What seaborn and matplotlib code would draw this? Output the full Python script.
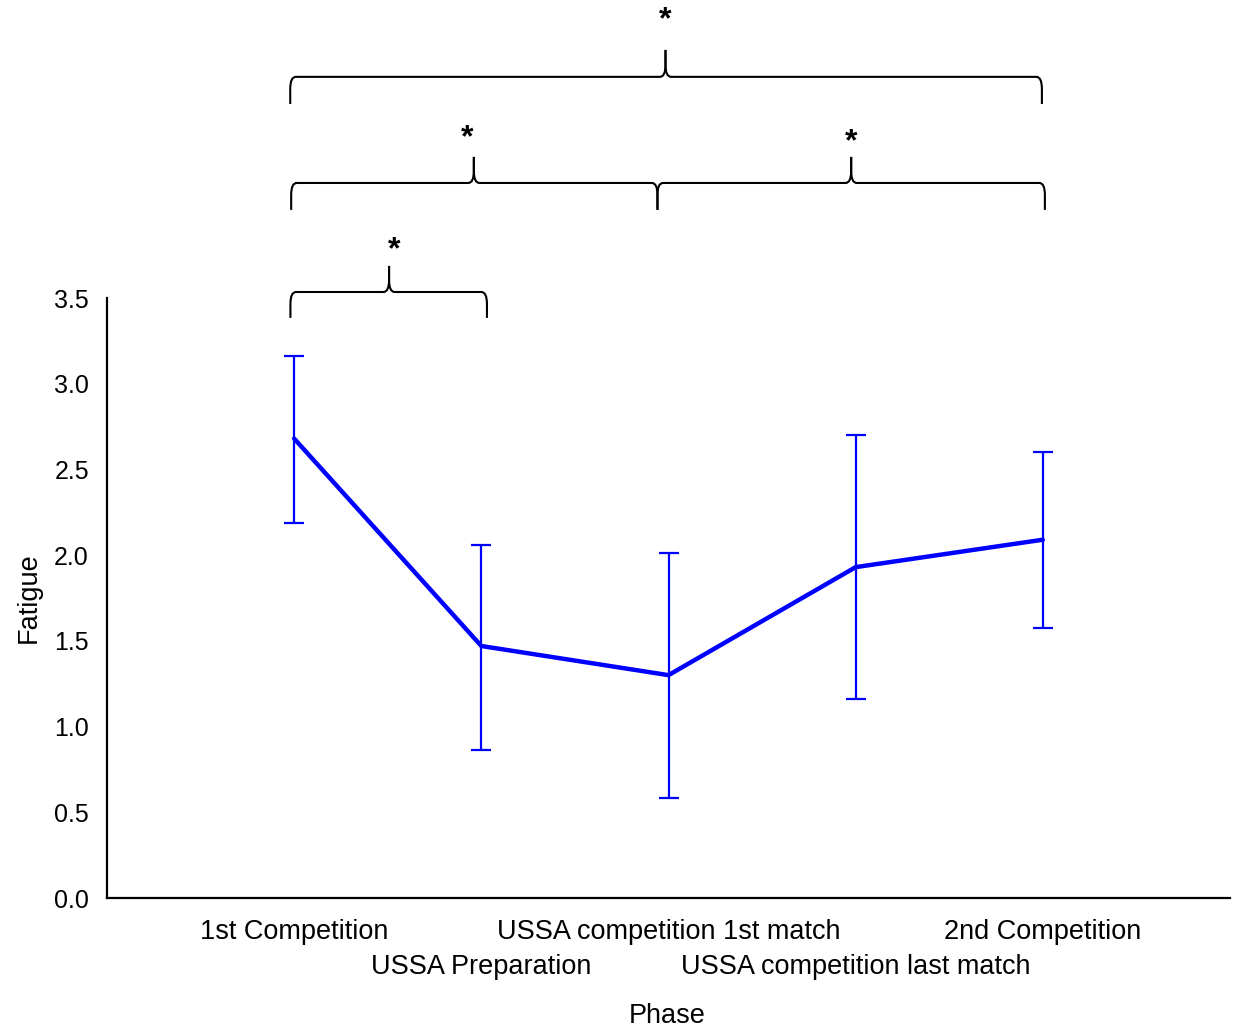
import matplotlib
matplotlib.use("Agg")
import matplotlib.pyplot as plt
from matplotlib.path import Path
from matplotlib.patches import PathPatch
import seaborn as sns
import pandas as pd

phases = ["1st Competition", "USSA Preparation", "USSA competition 1st match",
          "USSA competition last match", "2nd Competition"]
fatigue_mean = [2.68, 1.47, 1.30, 1.93, 2.09]
fatigue_upper = [3.16, 2.06, 2.01, 2.70, 2.60]
fatigue_lower = [2.19, 0.865, 0.585, 1.16, 1.575]

# significance brackets: (start index, end index, apex index)
brackets = [(-0.02, 1.03, 0.507), (-0.016, 1.941, 0.96), (1.941, 4.011, 2.976), (-0.021, 3.995, 1.984)]
bracket_levels = [(3.384, 3.535, 3.687), (4.014, 4.171, 4.323), (4.014, 4.171, 4.323), (4.632, 4.79, 4.947)]
star_pos = [(0.533, 3.78), (0.923, 4.43), (2.976, 4.41), (1.984, 5.12)]

sns.set_style("white")
plt.rcParams["font.family"] = ["Liberation Sans", "DejaVu Sans"]
plt.rcParams["text.color"] = "black"
plt.rcParams["axes.labelcolor"] = "black"

fig = plt.figure(figsize=(12.34, 10.28), dpi=100)
ax = fig.add_axes([107 / 1234, 1 - 898 / 1028, (1230 - 107) / 1234, 600 / 1028])

df = pd.DataFrame({"x": range(len(phases)), "y": fatigue_mean})
sns.lineplot(data=df, x="x", y="y", ax=ax, color="#0000ff", linewidth=3.2)
yerr = [[m - l for m, l in zip(fatigue_mean, fatigue_lower)],
        [u - m for m, u in zip(fatigue_mean, fatigue_upper)]]
ax.errorbar(range(len(phases)), fatigue_mean, yerr=yerr, fmt="none",
            ecolor="#0000ff", elinewidth=1.6, capsize=7, capthick=1.6)

ax.set_xlim(-1, 5)
ax.set_ylim(0, 3.5)
ax.set_yticks([0, 0.5, 1, 1.5, 2, 2.5, 3, 3.5])
ax.set_yticklabels(["0.0", "0.5", "1.0", "1.5", "2.0", "2.5", "3.0", "3.5"])
major_idx = [i for i in range(len(phases)) if i % 2 == 0]
minor_idx = [i for i in range(len(phases)) if i % 2 == 1]
ax.set_xticks(major_idx)
ax.set_xticklabels([phases[i] for i in major_idx])
ax.set_xticks(minor_idx + [5], minor=True)
ax.set_xticklabels([phases[i] for i in minor_idx] + [""], minor=True)
ax.tick_params(axis="both", which="both", direction="in", length=4, width=1.5,
               colors="black")
ax.tick_params(axis="y", labelsize=18, pad=13)
ax.tick_params(axis="x", which="major", labelsize=19.5, pad=15)
ax.tick_params(axis="x", which="minor", labelsize=19.5, pad=40)
ax.set_xlabel("Phase", fontsize=19.5)
ax.set_ylabel("Fatigue", fontsize=19.5, labelpad=9)
ax.xaxis.set_label_coords((667 - 107) / 1123, -0.175)

for s in ["top", "right"]:
    ax.spines[s].set_visible(False)
for s in ["left", "bottom"]:
    ax.spines[s].set_linewidth(1.6)
    ax.spines[s].set_color("black")

dx = 0.03
h = 0.07
for (x0, x1, xm), (yb, yf, yt) in zip(brackets, bracket_levels):
    verts = [(x0, yb), (x0, yf - h), (x0, yf), (x0 + dx, yf), (xm - dx, yf),
             (xm, yf), (xm, yf + h), (xm, yt)]
    codes = [Path.MOVETO, Path.LINETO, Path.CURVE3, Path.CURVE3, Path.LINETO,
             Path.CURVE3, Path.CURVE3, Path.LINETO]
    verts2 = [(xm, yt), (xm, yf + h), (xm, yf), (xm + dx, yf), (x1 - dx, yf),
              (x1, yf), (x1, yf - h), (x1, yb)]
    codes2 = [Path.MOVETO, Path.LINETO, Path.CURVE3, Path.CURVE3, Path.LINETO,
              Path.CURVE3, Path.CURVE3, Path.LINETO]
    for v, c in [(verts, codes), (verts2, codes2)]:
        ax.add_patch(PathPatch(Path(v, c), facecolor="none", edgecolor="black",
                               linewidth=1.5, clip_on=False))

for sx, sy in star_pos:
    ax.text(sx, sy, "*", ha="center", va="center", fontsize=23, fontweight="bold",
            clip_on=False)

fig.savefig("out.png", dpi=100)
